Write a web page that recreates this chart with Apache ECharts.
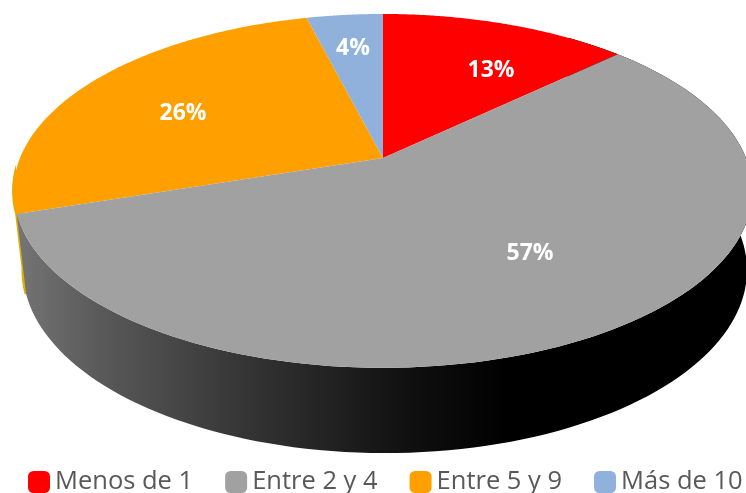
<!DOCTYPE html>
<html>
<head>
<meta charset="utf-8">
<style>html,body{margin:0;padding:0;background:#fff}#c{width:746px;height:493px}</style>
<script src="https://cdn.jsdelivr.net/npm/echarts@6/dist/echarts.min.js"></script>
</head>
<body>
<div id="c"></div>
<script>
// Data
var categories = ['Menos de 1', 'Entre 2 y 4', 'Entre 5 y 9', 'Más de 10'];
var values = [13, 57, 26, 4];

// Styling and layout
var topColors = ['#FF0000', '#A1A1A1', '#FFA000', '#8FB1DC'];
var labelCenters = [[491, 70], [530, 253], [183, 113], [353, 48]];
var tilt = 0.186;
var topDisc = {cx: 383, cy: 158, a: 363, b: 170.8};
var bottomDisc = {cx: 385, cy: 236, a: 355.7, b: 176.7};
var wallGradient = [
  {offset: 0, color: '#7c7c7c'}, {offset: 0.04, color: '#707070'},
  {offset: 0.14, color: '#585858'}, {offset: 0.34, color: '#333333'},
  {offset: 0.54, color: '#111111'}, {offset: 0.68, color: '#000000'},
  {offset: 1, color: '#000000'}
];
var wallColors = [null, null, '#E3AC00', null];
var wallFrom = Math.PI * 0.2, wallTo = Math.PI * 1.47;

var total = values.reduce(function (a, b) { return a + b; }, 0);

function project(d, angle) {
  var X = Math.sin(angle), Y = Math.cos(angle), w = 1 + tilt * Y;
  return [d.cx + d.a * X / w, d.cy - d.b * Y / w];
}
function arc(d, from, to) {
  var pts = [], n = 120;
  for (var i = 0; i <= n; i++) pts.push(project(d, from + (to - from) * i / n));
  return pts;
}
function sliceRange(index) {
  var before = 0;
  for (var i = 0; i < index; i++) before += values[i];
  return [before / total * Math.PI * 2, (before + values[index]) / total * Math.PI * 2];
}

function makeRender(index) {
  return function (params, api) {
    var v = api.value(0);
    var range = sliceRange(index);
    var rim = arc(topDisc, range[0], range[1]);
    var children = [];
    var from = Math.max(range[0], wallFrom), to = Math.min(range[1], wallTo);
    if (to > from) {
      var wall = arc(topDisc, from, to).concat(arc(bottomDisc, from, to).reverse());
      var flat = wallColors[index];
      children.push({type: 'polygon', shape: {points: wall}, style: flat
        ? {fill: flat, stroke: flat, lineWidth: 3}
        : {fill: new echarts.graphic.LinearGradient(0, 0, api.getWidth(), 0, wallGradient, true)}});
    }
    children.push({type: 'polygon', shape: {points: [[topDisc.cx, topDisc.cy]].concat(rim)}, style: {fill: topColors[index]}});
    children.push({type: 'text', z2: 10, style: {
      x: labelCenters[index][0], y: labelCenters[index][1],
      text: v + '%', fill: '#FFFFFF', align: 'center', verticalAlign: 'middle',
      font: 'bold 23px "Open Sans", sans-serif'
    }});
    return {type: 'group', children: children};
  };
}

// Front-facing wall last, so it overlaps the thin wall beside it
var paintOrder = [2, 3, 0, 1];
var series = paintOrder.map(function (i) {
  return {
    type: 'custom',
    name: categories[i],
    coordinateSystem: 'none',
    silent: true,
    animation: false,
    itemStyle: {color: topColors[i]},
    data: [[values[i]]],
    renderItem: makeRender(i)
  };
});

var chart = echarts.init(document.getElementById('c'), null, {renderer: 'canvas'});
chart.setOption({
  animation: false,
  backgroundColor: '#FFFFFF',
  legend: {
    data: categories,
    left: 28, top: 469,
    width: 730,
    padding: 0,
    itemWidth: 22, itemHeight: 22, itemGap: 32,
    icon: 'roundRect',
    selectedMode: false,
    textStyle: {color: '#595959', fontSize: 25.5, fontFamily: '"Open Sans", sans-serif', padding: 0}
  },
  series: series
});
</script>
</body>
</html>
